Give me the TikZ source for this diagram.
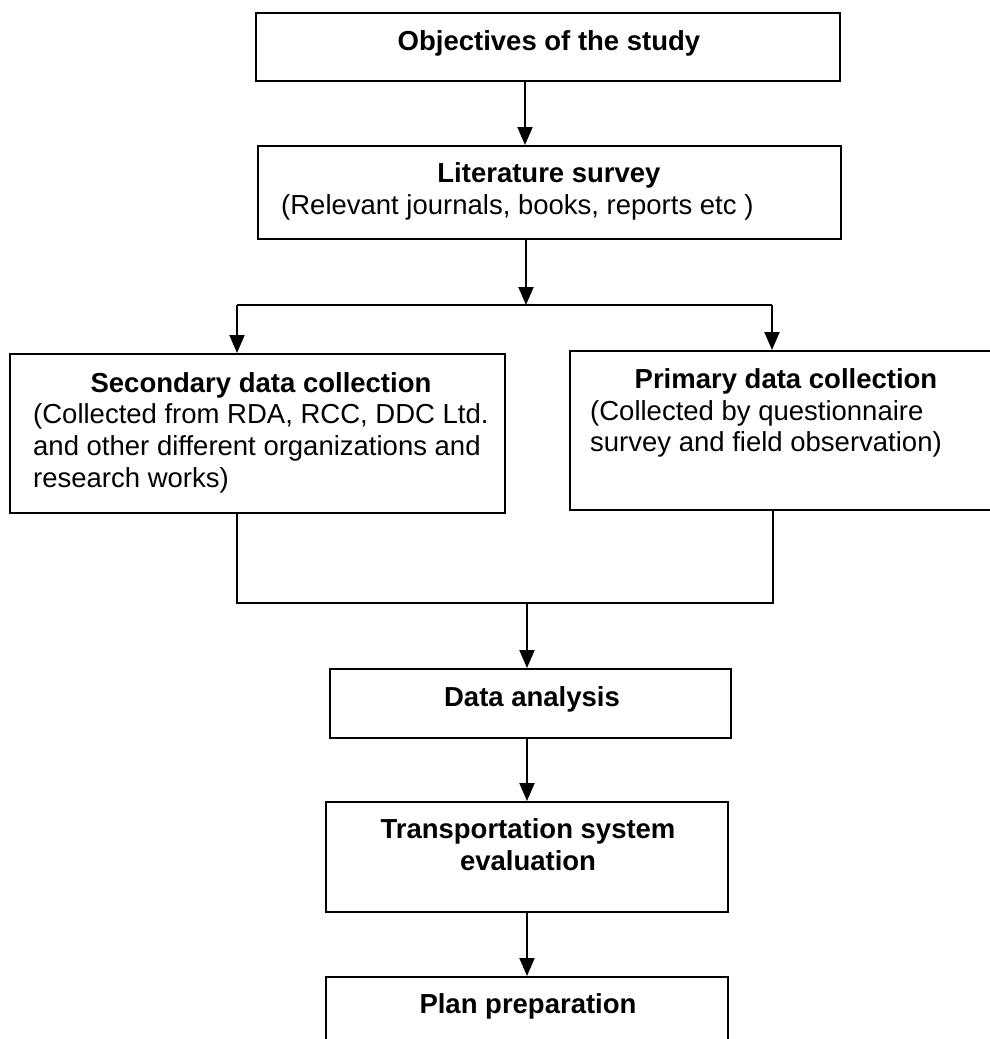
\documentclass[tikz,border=0pt]{standalone}
\usepackage{fontspec}
\setmainfont{Liberation Sans}
\usetikzlibrary{arrows.meta}
\begin{document}
\begin{tikzpicture}[x=1pt,y=-1pt,
  box/.style={draw, line width=2pt, inner sep=0pt},
  ttl/.style={font=\fontsize{27.5}{32}\selectfont\bfseries, inner sep=0pt},
  txt/.style={font=\fontsize{27.5}{32}\selectfont, inner sep=0pt},
  conn/.style={line width=2pt},
  arr/.style={line width=2pt, -{Triangle[length=18pt,width=15pt]}}]
\useasboundingbox (0,0) rectangle (990,1039);
\clip (0,0) rectangle (990,1039);
\fill[white] (0,0) rectangle (990,1039);

% boxes
\node[box, minimum width=584pt, minimum height=68pt]  (obj)   at (548,47)    {};
\node[box, minimum width=583pt, minimum height=93pt]  (lit)   at (549.5,192.5) {};
\node[box, minimum width=495pt, minimum height=159pt] (sec)   at (257.5,433.5) {};
\node[box, minimum width=440pt, minimum height=159pt] (pri)   at (790,430.5) {};
\node[box, minimum width=401pt, minimum height=69pt]  (data)  at (530.5,703.5) {};
\node[box, minimum width=402pt, minimum height=110pt] (trans) at (527,857)   {};
\node[box, minimum width=402pt, minimum height=103pt] (plan)  at (527,1028.5) {};

% texts
\node[ttl, anchor=base] (tobj) at (549,50) {Objectives of the study};
\node[ttl, anchor=base] (tlit1) at (549,182) {Literature survey};
\node[txt, anchor=base west] (tlit2) at (281,214) {(Relevant journals, books, reports etc )};
\node[ttl, anchor=base] (tsec1) at (261,392) {Secondary data collection};
\node[txt, anchor=base west] (tsec2) at (33,423) {(Collected from RDA, RCC, DDC Ltd.};
\node[txt, anchor=base west] (tsec3) at (33,455) {and other different organizations and};
\node[txt, anchor=base west] (tsec4) at (33,487) {research works)};
\node[ttl, anchor=base] (tpri1) at (786,388) {Primary data collection};
\node[txt, anchor=base west] (tpri2) at (590,420) {(Collected by questionnaire};
\node[txt, anchor=base west] (tpri3) at (590,451) {survey and field observation)};
\node[ttl, anchor=base] (tdata) at (532,706) {Data analysis};
\node[ttl, anchor=base] (ttr1) at (528,838) {Transportation system};
\node[ttl, anchor=base] (ttr2) at (528,870) {evaluation};
\node[ttl, anchor=base] (tplan) at (528,1013) {Plan preparation};

% connectors
\coordinate (ax) at (525,0);
\coordinate (br) at (526,305);
\coordinate (bl) at (237,305);
\coordinate (brr) at (772,305);
\coordinate (ml) at (237,603);
\coordinate (mr) at (773,603);
\coordinate (mm) at (527,603);

\draw[arr] (obj.south -| ax) -- (lit.north -| ax);
\draw[arr] (lit.south -| br) -- (br);
\draw[conn] (bl) -- (brr);
\draw[arr] (bl) -- (sec.north -| bl);
\draw[arr] (brr) -- (pri.north -| brr);
\draw[conn] (sec.south -| ml) -- (ml) -- (mr) -- (pri.south -| mr);
\draw[arr] (mm) -- (data.north -| mm);
\draw[arr] (data.south -| mm) -- (trans.north -| mm);
\draw[arr] (trans.south -| mm) -- (plan.north -| mm);
\end{tikzpicture}
\end{document}
